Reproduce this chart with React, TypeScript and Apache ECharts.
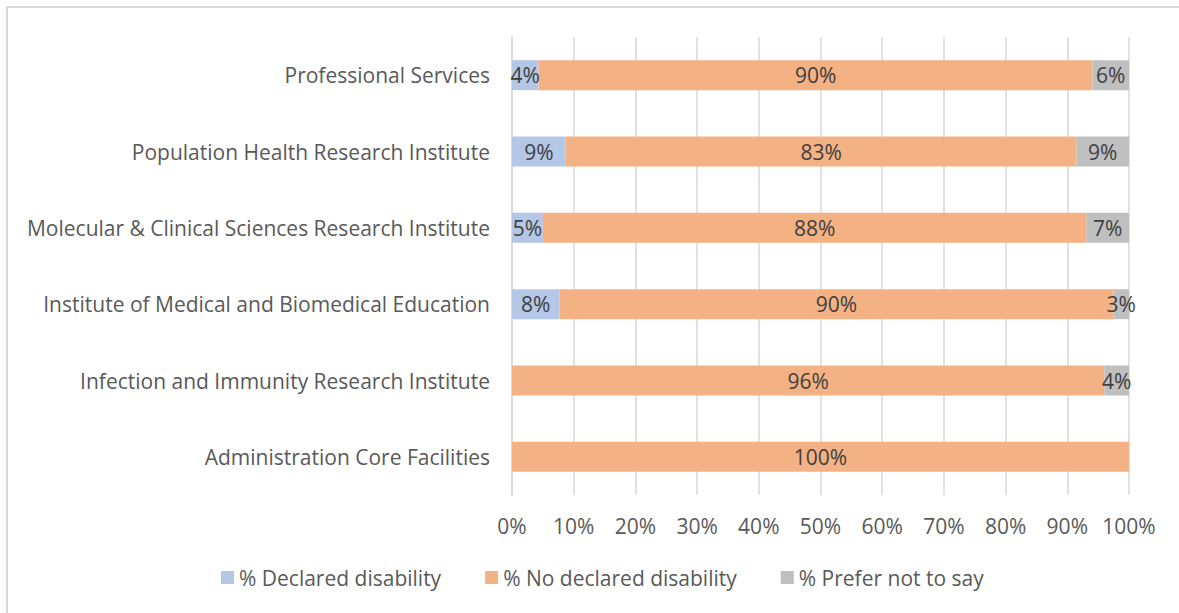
import React, { useEffect, useRef } from "react";
import * as echarts from "echarts";

const categories = [
  "Administration Core Facilities",
  "Infection and Immunity Research Institute",
  "Institute of Medical and Biomedical Education",
  "Molecular & Clinical Sciences Research Institute",
  "Population Health Research Institute",
  "Professional Services",
];
const declared = [0, 0, 7.7, 5.0, 8.7, 4.3];
const noDeclared = [100, 96.0, 89.8, 88.1, 82.8, 89.8];
const preferNot = [0, 4.0, 2.5, 6.9, 8.5, 5.9];
const xTicks = [0, 10, 20, 30, 40, 50, 60, 70, 80, 90, 100];

const FONT = "'Open Sans', sans-serif";
const FS = 21;

export default function App() {
  const ref = useRef<HTMLDivElement>(null);
  useEffect(() => {
    if (!ref.current) return;
    const chart = echarts.init(ref.current, null, { renderer: "svg" });
    const label = {
      show: true,
      position: "inside" as const,
      color: "#404040",
      fontSize: FS,
      fontFamily: FONT,
      formatter: (p: any) => (p.value > 0 ? Math.round(p.value) + "%" : ""),
    };
    const mk = (name: string, data: number[], color: string) => ({
      name,
      type: "bar",
      stack: "total",
      barWidth: 30,
      data,
      itemStyle: { color },
      label,
      emphasis: { disabled: true },
    });
    chart.setOption({
      animation: false,
      textStyle: { fontFamily: FONT },
      graphic: [
        {
          type: "rect",
          shape: { x: 7, y: 7, width: 1300, height: 700 },
          style: { fill: "none", stroke: "#d9d9d9", lineWidth: 2 },
          silent: true,
        },
      ],
      grid: { left: 512, right: 50, top: 37, bottom: 118 },
      xAxis: {
        type: "value",
        min: 0,
        max: 100,
        interval: 10,
        axisLine: { show: false },
        axisTick: { show: false },
        splitLine: { lineStyle: { color: "#d9d9d9", width: 1.5 } },
        axisLabel: {
          color: "#595959",
          fontSize: FS,
          fontFamily: FONT,
          margin: 20,
          formatter: (v: number) => (xTicks.includes(v) ? v + "%" : ""),
        },
      },
      yAxis: {
        type: "category",
        data: categories,
        axisLine: { show: true, lineStyle: { color: "#d9d9d9", width: 1.5 } },
        axisTick: { show: false },
        axisLabel: {
          color: "#595959",
          fontSize: FS,
          fontFamily: FONT,
          margin: 22,
        },
      },
      legend: {
        bottom: 20,
        left: 216,
        itemWidth: 13,
        itemHeight: 13,
        itemGap: 44,
        icon: "rect",
        textStyle: { color: "#595959", fontSize: FS, fontFamily: FONT },
        data: ["% Declared disability", "% No declared disability", "% Prefer not to say"],
      },
      series: [
        mk("% Declared disability", declared, "#b4c7e7"),
        mk("% No declared disability", noDeclared, "#f4b183"),
        mk("% Prefer not to say", preferNot, "#bfbfbf"),
      ],
    });
    return () => chart.dispose();
  }, []);
  return (
    <div
      ref={ref}
      style={{ position: "absolute", left: 0, top: 0, width: 1179, height: 613, background: "#fff" }}
    />
  );
}
